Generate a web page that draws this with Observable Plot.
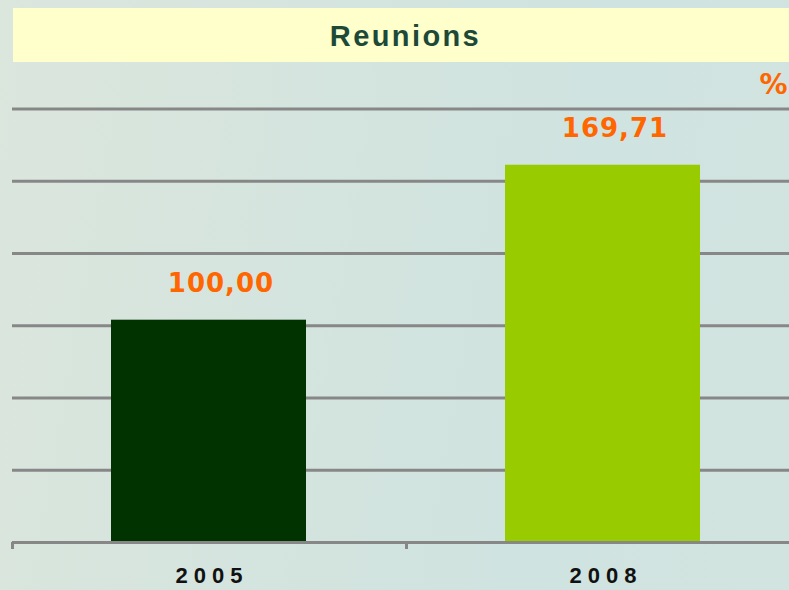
<!DOCTYPE html>
<html>
<head>
<meta charset="utf-8">
<script src="https://cdn.jsdelivr.net/npm/d3@7"></script>
<script src="https://cdn.jsdelivr.net/npm/@observablehq/plot@0.6"></script>
<style>
  html, body { margin: 0; padding: 0; }
  body {
    width: 789px; height: 590px; overflow: hidden;
    background: linear-gradient(100deg, #dbe6dd 0%, #d4e4de 40%, #cfe3e0 70%, #d2e4e0 100%);
    font-family: "Liberation Sans", Arial, sans-serif;
  }
  #title {
    margin: 8px 0 0 13px; width: 767px; height: 54px; padding-left: 9px;
    background: #ffffcc; color: #1d4a38; font-weight: bold; font-size: 29px;
    letter-spacing: 2.4px; line-height: 57px; text-align: center;
  }
  #chart svg { display: block; background: transparent; }
</style>
</head>
<body>
<div id="title">Reunions</div>
<div id="chart"></div>
<script>
const years = ["2005", "2008"];
const values = [100.00, 169.71];
const gridTicks = [32.5, 65, 97.5, 130, 162.5, 195];
const unitLabel = "%";

const data = years.map((y, i) => ({year: y, value: values[i]}));
const fmt = v => v.toFixed(2).replace(".", ",");

const plot = Plot.plot({
  width: 789,
  height: 528,
  marginTop: 46.5,
  marginBottom: 48,
  marginLeft: 12,
  marginRight: 0,
  style: {background: "transparent", overflow: "visible"},
  x: {domain: years, range: [13, 799], paddingInner: 0.504, paddingOuter: 0.249, axis: null},
  y: {domain: [0, 195], axis: null},
  color: {domain: years, range: ["#003300", "#99cc00"]},
  marks: [
    Plot.ruleY(gridTicks, {stroke: "#878787", strokeWidth: 3}),
    Plot.barY(data, {x: "year", y: "value", fill: "year"}),
    Plot.ruleY([0], {stroke: "#878787", strokeWidth: 3}),
    Plot.axisX({tickSize: 7, tickFormat: () => "", label: null, stroke: "#878787", strokeWidth: 3, dx: -196.5, tickPadding: 0}),
    Plot.text(data, {x: "year", y: "value", text: d => fmt(d.value), lineAnchor: "bottom", dy: -28, dx: 12,
      fill: "#ff6600", fontSize: 26, fontWeight: "bold", fontFamily: "DejaVu Sans"}),
    Plot.text(data, {x: "year", y: 0, text: "year", dy: 33, dx: 3, fill: "#111111",
      fontSize: 22, fontWeight: "bold", fontFamily: "Liberation Sans"}),
    Plot.text([unitLabel], {frameAnchor: "top-right", text: d => d, textAnchor: "start", dx: -30, dy: -35,
      fill: "#ff6600", fontSize: 28, fontWeight: "bold", fontFamily: "DejaVu Sans"})
  ]
});
document.getElementById("chart").appendChild(plot);
d3.select(plot).selectAll("text")
  .filter(function() { return years.includes(this.textContent); })
  .style("letter-spacing", "6px");
d3.select(plot).selectAll("text")
  .filter(function() { return values.map(fmt).includes(this.textContent); })
  .style("letter-spacing", "1px");
</script>
</body>
</html>
